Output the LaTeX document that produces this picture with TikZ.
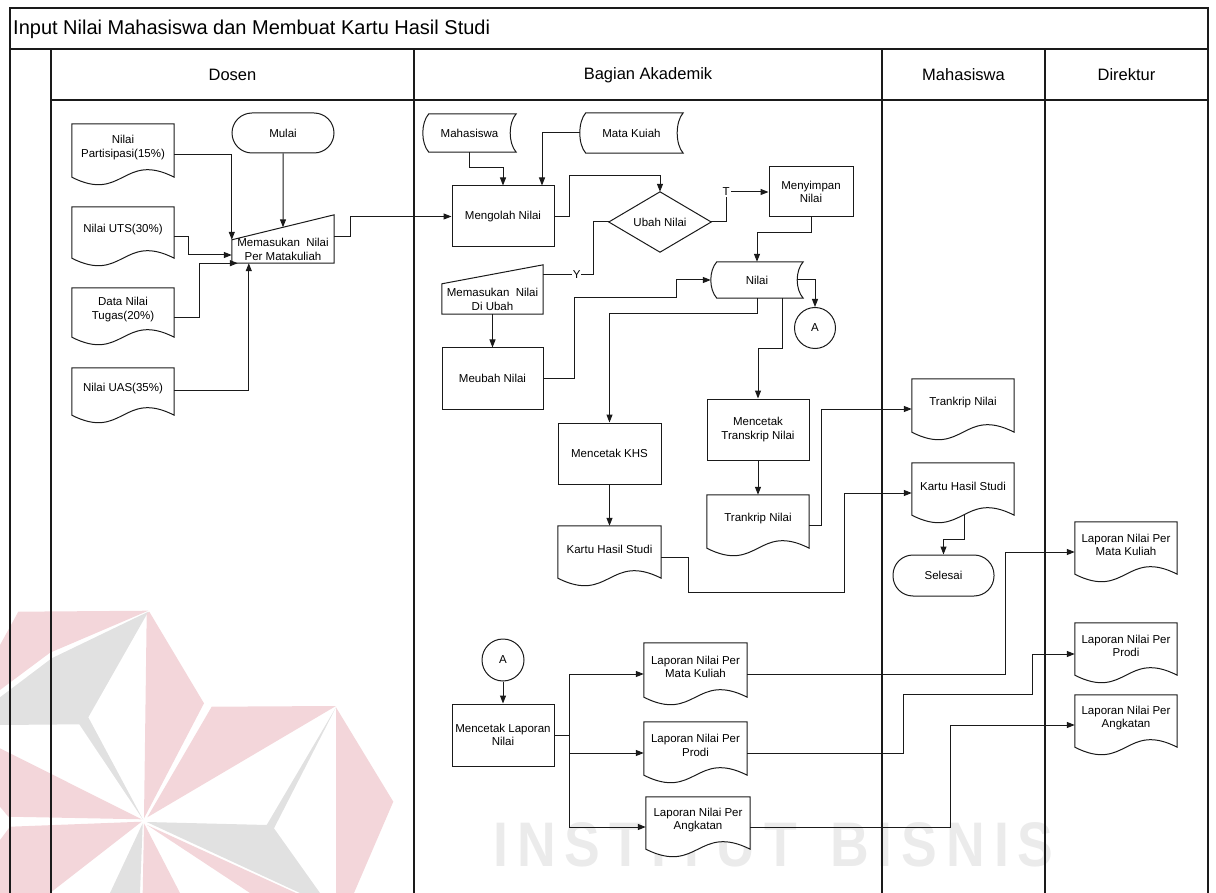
\documentclass[tikz,border=0pt]{standalone}
\usepackage{fontspec}
\usepackage{graphicx}
\setmainfont{Liberation Sans}
\usetikzlibrary{arrows.meta,calc}
\pgfdeclarelayer{wm}
\pgfdeclarelayer{bg}
\pgfsetlayers{wm,bg,main}

\definecolor{ink}{HTML}{1A1A1A}
\definecolor{wmpink}{HTML}{F3D6DA}
\definecolor{wmgray}{HTML}{E1E1E1}
\definecolor{wmtext}{HTML}{EBEBEB}

\newcommand\NodeTextFont{\fontsize{11.5}{13.5}\selectfont}
% one narrowed watermark letter followed by a gap
\newcommand\WmLetter[1]{\scalebox{0.85}[1]{#1}\kern9pt}

\tikzset{
  lane/.style={line width=1.5pt, draw=ink},
  txt/.style={align=center, inner sep=0pt, font=\NodeTextFont},
  box/.style={txt, draw=ink, line width=1pt, fill=white},
  term/.style={box, rounded corners=20pt},
  circ/.style={box, circle, minimum size=#1},
  shp/.style={draw=ink, line width=1pt, fill=white},
  con/.style={draw=ink, line width=1pt},
  arr/.style={con, -{Triangle[length=8pt,width=6pt]}},
  lbl/.style={font=\NodeTextFont, fill=white, inner sep=1pt},
}

% document symbol: flat top, wavy bottom
\newcommand\DocOutline[1]{%
  \begin{pgfonlayer}{bg}
  \draw[shp] (#1.north west) -- (#1.north east) -- ($(#1.south east)+(0,6)$)
    .. controls ($(#1.south)+(0,-20)$) and ($(#1.south)+(0,32)$) .. ($(#1.south west)+(0,6)$) -- cycle;
  \end{pgfonlayer}}

% manual input symbol: slanted top edge, rising to the right
\newcommand\ManualOutline[3]{%
  \coordinate (#1-tl) at ($(#1.north west)+(0,#2)$);
  \coordinate (#1-tr) at ($(#1.north east)+(0,-#3)$);
  \begin{pgfonlayer}{bg}
  \draw[shp] (#1.south west) -- (#1.south east) -- (#1-tr) -- (#1-tl) -- cycle;
  \end{pgfonlayer}}

% stored data symbol: both sides curved towards the left
\newcommand\StoreOutline[1]{%
  \begin{pgfonlayer}{bg}
  \draw[shp] (#1.north west) -- ($(#1.north east)+(6,0)$)
    .. controls ($(#1.north east)+(-2,9)$) and ($(#1.south east)+(-2,-9)$) .. ($(#1.south east)+(6,0)$)
    -- (#1.south west)
    .. controls ($(#1.south west)+(-8,-9)$) and ($(#1.north west)+(-8,9)$) .. (#1.north west) -- cycle;
  \end{pgfonlayer}}

% decision symbol
\newcommand\DecisionOutline[1]{%
  \begin{pgfonlayer}{bg}
  \draw[shp] (#1.north) -- (#1.east) -- (#1.south) -- (#1.west) -- cycle;
  \end{pgfonlayer}}

\begin{document}
\begin{tikzpicture}[x=1pt,y=-1pt]
\useasboundingbox (0,0) rectangle (1216,893);

% ---------- faint logo watermark ----------
\begin{pgfonlayer}{wm}
  \fill[wmpink] (18.3,611.7) -- (148.3,610.7) -- (50,652.7) -- (0,690) -- (0,645) -- cycle;
  \fill[wmgray] (0,697.3) -- (51.7,658.3) -- (148.3,611.7) -- (88.3,717.3) -- (143.3,820) -- (79.3,724.3) -- (0,725) -- cycle;
  \fill[wmpink] (149.3,611.7) -- (204,703.3) -- (144,818.3) -- (146.7,613.3) -- cycle;
  \fill[wmpink] (211.7,706.7) -- (336,706) -- (147.3,817.3) -- cycle;
  \fill[wmgray] (146.7,822) -- (266.7,825) -- (336,707.3) -- (274,828.3) -- (320,893) -- (300,893) -- cycle;
  \fill[wmpink] (147,825) -- (296,893) -- (250,893) -- cycle;
  \fill[wmpink] (336,707.3) -- (393.3,801.7) -- (354,893) -- (336,893) -- cycle;
  \fill[wmpink] (0,748.3) -- (141.7,819.3) -- (8.3,816.7) -- (0,806.7) -- cycle;
  \fill[wmpink] (10,826.7) -- (141.7,821.7) -- (50,893) -- (0,893) -- (0,840) -- cycle;
  \fill[wmgray] (110,893) -- (142.7,823.3) -- (140,893) -- cycle;
  \fill[wmpink] (142.7,893) -- (144,823.3) -- (180,893) -- cycle;
  \node[text=wmtext, font=\fontsize{63}{63}\selectfont\bfseries, inner sep=0pt, anchor=west] (wmtxt) at (493,845)
    {\WmLetter{I}\WmLetter{N}\WmLetter{S}\WmLetter{T}\WmLetter{I}\WmLetter{T}\WmLetter{U}\WmLetter{T}\kern24pt
     \WmLetter{B}\WmLetter{I}\WmLetter{S}\WmLetter{N}\WmLetter{I}\scalebox{0.85}[1]{S}};
\end{pgfonlayer}

% ---------- swimlane frame ----------
\begin{pgfonlayer}{bg}
  \draw[lane] (10,893) -- (10,8) -- (1208,8) -- (1208,893);
  \draw[lane] (10,49) -- (1208,49);
  \draw[lane] (51,100) -- (1208,100);
  \foreach \lx in {51,414,882,1045} \draw[lane] (\lx,49) -- (\lx,893);
\end{pgfonlayer}
\node[anchor=west, inner sep=0pt, font=\fontsize{20}{24}\selectfont] (title) at (13,29)
  {Input Nilai Mahasiswa dan Membuat Kartu Hasil Studi};
\node[font=\fontsize{16.5}{20}\selectfont] (hdosen) at (232.5,75) {Dosen};
\node[font=\fontsize{16.5}{20}\selectfont] (hakad) at (648,75) {Bagian Akademik};
\node[font=\fontsize{16.5}{20}\selectfont] (hmhs) at (963.5,75) {Mahasiswa};
\node[font=\fontsize{16.5}{20}\selectfont] (hdir) at (1126.5,75) {Direktur};

% ---------- Dosen ----------
\node[txt, minimum width=102, minimum height=47] (dpart) at (123,147.5) {Nilai\\Partisipasi(15\%)};
\node[txt, minimum width=102, minimum height=45] (duts) at (123,229.5) {Nilai UTS(30\%)};
\node[txt, minimum width=102, minimum height=43] (dtugas) at (123,309.5) {Data Nilai\\Tugas(20\%)};
\node[txt, minimum width=102, minimum height=41] (duas) at (123,388.5) {Nilai UAS(35\%)};
\DocOutline{dpart}\DocOutline{duts}\DocOutline{dtugas}\DocOutline{duas}
\node[term, minimum width=102, minimum height=40] (mulai) at (283,133) {Mulai};
\node[txt, minimum width=102, minimum height=27] (mi1) at (283,249.5) {Memasukan\ \ Nilai\\Per Matakuliah};
\ManualOutline{mi1}{4}{21}

% ---------- Bagian Akademik ----------
\node[txt, minimum width=81, minimum height=38] (mhs) at (469.5,133) {Mahasiswa};
\node[txt, minimum width=91, minimum height=40] (mk) at (631.5,133) {Mata Kuiah};
\StoreOutline{mhs}\StoreOutline{mk}
\node[box, minimum width=102, minimum height=61] (olah) at (503,216.5) {Mengolah Nilai};
\node[txt, minimum width=102, minimum height=60] (ubah) at (660,222) {Ubah Nilai};
\DecisionOutline{ubah}
\node[box, minimum width=84, minimum height=50] (simpan) at (811,192) {Menyimpan\\Nilai};
\node[txt, minimum width=80, minimum height=36] (nilai) at (757,280) {Nilai};
\StoreOutline{nilai}
\node[circ=41pt] (a1) at (815,328) {A};
\node[txt, minimum width=101, minimum height=29] (mi2) at (492.5,299.5) {Memasukan\ \ Nilai\\Di Ubah};
\ManualOutline{mi2}{-1}{20}
\node[box, minimum width=101, minimum height=61] (ubahn) at (492.5,378.5) {Meubah Nilai};
\node[box, minimum width=103, minimum height=61] (ckhs) at (609.5,453.5) {Mencetak KHS};
\node[box, minimum width=102, minimum height=61] (ctr) at (758,429.5) {Mencetak\\Transkrip Nilai};
\node[txt, minimum width=103, minimum height=46] (dkhs) at (609.5,549) {Kartu Hasil Studi};
\node[txt, minimum width=102, minimum height=47] (dtr) at (758,518.5) {Trankrip Nilai};
\DocOutline{dkhs}\DocOutline{dtr}
\node[circ=42pt] (a2) at (503,660) {A};
\node[box, minimum width=102, minimum height=62] (clap) at (503,735) {Mencetak Laporan\\Nilai};
\node[txt, minimum width=103, minimum height=48] (lap1) at (695.5,667) {Laporan Nilai Per\\Mata Kuliah};
\node[txt, minimum width=103, minimum height=47] (lap2) at (695.5,745.5) {Laporan Nilai Per\\Prodi};
\node[txt, minimum width=104, minimum height=46] (lap3) at (698,820) {Laporan Nilai Per\\Angkatan};
\DocOutline{lap1}\DocOutline{lap2}\DocOutline{lap3}

% ---------- Mahasiswa ----------
\node[txt, minimum width=102, minimum height=47] (mtr) at (963,402.5) {Trankrip Nilai};
\node[txt, minimum width=102, minimum height=46] (mkhs) at (963,486) {Kartu Hasil Studi};
\DocOutline{mtr}\DocOutline{mkhs}
\node[term, minimum width=101, minimum height=41] (selesai) at (943.5,575.5) {Selesai};

% ---------- Direktur ----------
\node[txt, minimum width=102, minimum height=46] (dl1) at (1126,545) {Laporan Nilai Per\\Mata Kuliah};
\node[txt, minimum width=102, minimum height=46] (dl2) at (1126,646) {Laporan Nilai Per\\Prodi};
\node[txt, minimum width=102, minimum height=46] (dl3) at (1126,718) {Laporan Nilai Per\\Angkatan};
\DocOutline{dl1}\DocOutline{dl2}\DocOutline{dl3}

% ---------- connectors: Dosen ----------
\draw[arr] (mulai.south) -- ($(mi1-tl)!0.5!(mi1-tr)$);
\draw[arr] ($(dpart.east)+(0,7.5)$) -| (mi1-tl);
\draw[arr] ($(duts.east)+(0,7)$) -- ++(14,0) |- ($(mi1.west)+(0,5.5)$);
\draw[arr] ($(dtugas.east)+(0,8.5)$) -- ++(25,0) |- ($(mi1.south west)+(6,0)$);
\draw[arr] ($(duas.east)+(0,1.5)$) -| ($(mi1.south west)+(17,0)$);
\draw[arr] ($(mi1.east)+(0,-12.5)$) -- ++(16,0) |- (olah.west);

% ---------- connectors: Bagian Akademik ----------
\draw[arr] (mhs.south) -- ++(0,15) -| (olah.north);
\draw[arr] ($(mk.west)+(-6,0)$) -| ($(olah.north)+(39,0)$);
\draw[arr] (olah.east) -- ++(15,0) |- ($(ubah.north)+(0,-16)$) -- (ubah.north);
\draw[arr] (ubah.east) -- ++(15,0) |- node[lbl]{T} (simpan.west);
\draw[arr] (simpan.south) -- ++(0,15) -| (nilai.north);
\draw[con] (ubah.west) -- ++(-15,0) |- node[lbl, pos=0.67]{Y} ($(mi2.east)+(0,-24.5)$);
\draw[arr] (mi2.south) -- (ubahn.north);
\draw[arr] (ubahn.east) -- ++(31,0) |- ($(nilai.west)+(-40,18)$) |- ($(nilai.west)+(-6,0)$);
\draw[arr] (nilai.east) -| (a1.north);
\draw[arr] (nilai.south) -- ++(0,15) -| (ckhs.north);
\draw[arr] ($(nilai.south)+(25,0)$) -- ++(0,50) -| (ctr.north);
\draw[arr] (ckhs.south) -- (dkhs.north);
\draw[arr] (ctr.south) -- (dtr.north);
\draw[arr] (a2.south) -- (clap.north);
\draw[con] (clap.east) -- ++(15,0) coordinate (fork);
\draw[arr] (fork) |- ($(lap1.west)+(0,7)$);
\draw[arr] (fork) |- ($(lap2.west)+(0,7.5)$);
\draw[arr] (fork) |- ($(lap3.west)+(0,7)$);

% ---------- connectors: to Mahasiswa and Direktur ----------
\draw[arr] ($(dtr.east)+(0,6.5)$) -- ++(12,0) |- ($(mtr.west)+(0,6.5)$);
\draw[arr] ($(dkhs.east)+(0,8)$) -| ($(dkhs.east)+(27,43)$) -| ($(mkhs.west)+(-67,7)$) -- ($(mkhs.west)+(0,7)$);
\draw[arr] ($(mkhs.south)+(1,6)$) -- ++(0,24) -| (selesai.north);
\draw[arr] ($(lap1.east)+(0,7)$) -| ($(dl1.west)+(-69,7)$) -- ($(dl1.west)+(0,7)$);
\draw[arr] ($(lap2.east)+(0,7.5)$) -| ($(dl2.west)+(-171,48)$) -| ($(dl2.west)+(-42,8)$) -- ($(dl2.west)+(0,8)$);
\draw[arr] ($(lap3.east)+(0,7)$) -| ($(dl3.west)+(-124,7)$) -- ($(dl3.west)+(0,7)$);
\end{tikzpicture}
\end{document}
